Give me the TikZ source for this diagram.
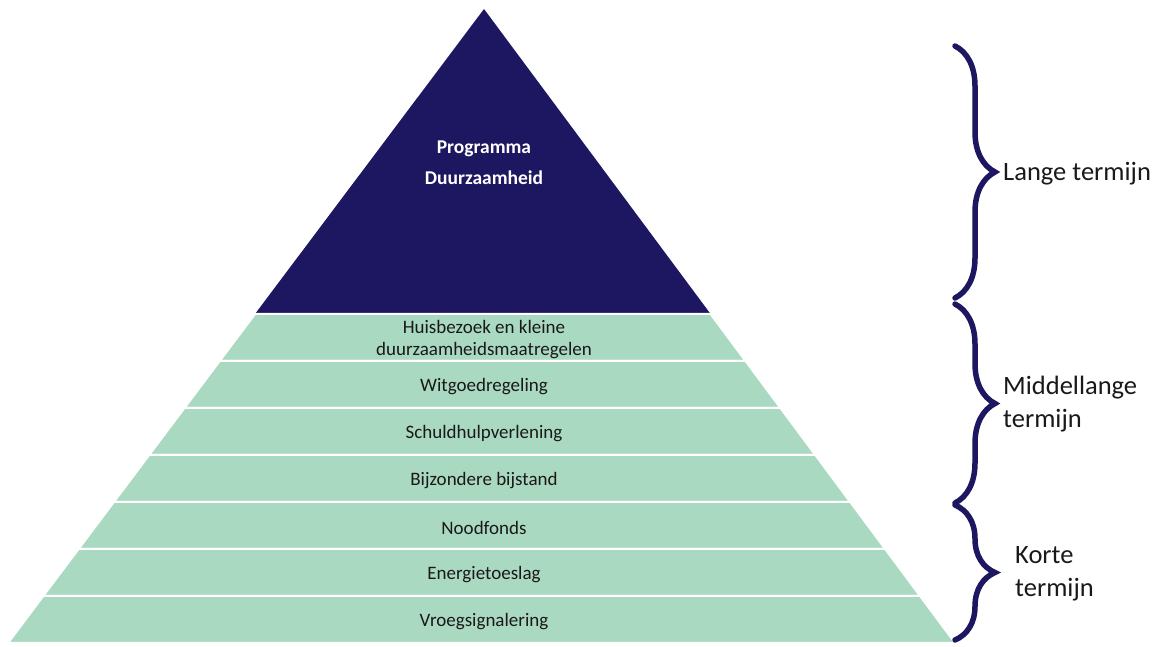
\documentclass[tikz,border=0pt]{standalone}
\usepackage{fontspec}
\setmainfont{Carlito}
\usepackage{xcolor}
\usetikzlibrary{calc,decorations.pathreplacing}
\definecolor{navy}{RGB}{29,22,97}
\definecolor{mint}{RGB}{170,217,193}
\tikzset{
  band/.style={fill=mint,draw=white,line width=2pt},
  bandtext/.style={font=\fontsize{19}{22}\selectfont,text=black!90,align=center,inner sep=0pt},
  toptext/.style={font=\fontsize{19.5}{31}\selectfont\bfseries,text=white,align=center,inner sep=0pt},
  termbrace/.style={draw=navy,line width=5.5pt,line cap=round,decorate,decoration={brace,amplitude=40pt}},
  termtext/.style={font=\fontsize{26.5}{33}\selectfont,text=black!90,align=left,anchor=west,inner sep=0pt}
}
\begin{document}
\begin{tikzpicture}[x=1pt,y=-1pt]
\useasboundingbox (0,0) rectangle (1160,646);
% Piramide
\coordinate (top) at (484,9);
\coordinate (bl) at (8,643);
\coordinate (br) at (955,643);
\fill[navy] (top) -- ($(top)!0.481!(bl)$) -- ($(top)!0.481!(br)$) -- cycle;
\node[toptext] (prog) at (484,163) {Programma\\Duurzaamheid};
% Lagen
\foreach \lbl [count=\i from 0] in {{Huisbezoek en kleine\\duurzaamheidsmaatregelen},Witgoedregeling,Schuldhulpverlening,Bijzondere bijstand,Noodfonds,Energietoeslag,Vroegsignalering}
{
  \pgfmathsetmacro\ta{0.481+\i*0.0741}
  \pgfmathsetmacro\tb{\ta+0.0741}
  \path[band] ($(top)!\ta!(bl)$) -- ($(top)!\ta!(br)$) -- ($(top)!\tb!(br)$) -- ($(top)!\tb!(bl)$) -- cycle;
  \node[bandtext] (laag\i) at (484,{340+47*\i}) {\lbl};
}
% Termijnen
\coordinate (b1) at (955,46);
\coordinate (b2) at (955,298);
\coordinate (b3) at (955,304);
\coordinate (b4) at (955,503);
\coordinate (b5) at (955,505);
\coordinate (b6) at (955,640);
\draw[termbrace] (b1) -- (b2);
\draw[termbrace] (b3) -- (b4);
\draw[termbrace] (b5) -- (b6);
\node[termtext] (lang) at (1003,174) {Lange termijn};
\node[termtext] (middel) at (1003,404) {Middellange\\termijn};
\node[termtext] (kort) at (1015,574) {Korte\\termijn};
\end{tikzpicture}
\end{document}
